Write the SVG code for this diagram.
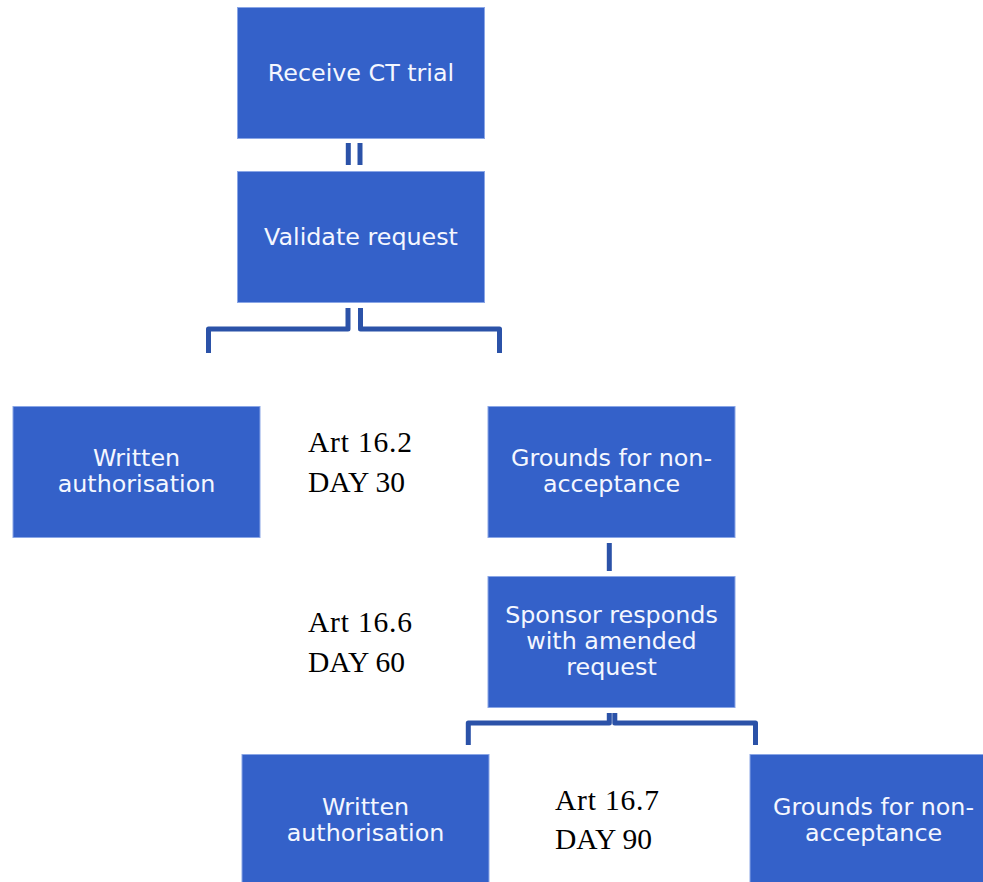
<svg xmlns="http://www.w3.org/2000/svg" width="983" height="882" viewBox="0 0 983 882">
<style>
.box{fill:#3461C9;stroke:#8AA6E6;stroke-width:1}
.lbl{font-family:"DejaVu Sans",Verdana,sans-serif;font-size:23.8px;fill:#F4F7FF;text-anchor:middle}
.day{font-family:"Liberation Serif","Times New Roman",serif;font-size:29.5px;fill:#000}
.art{letter-spacing:0.8px}
.con{fill:none;stroke:#2B52A8;stroke-width:5;stroke-linejoin:round}
</style>
<rect width="983" height="882" fill="#fff"/>
<g id="connectors">
<path class="con" d="M348.3,143V165"/>
<path class="con" d="M360,143V165"/>
<path class="con" d="M348,308V329H208.5V353"/>
<path class="con" d="M360.5,308V329H499.5V353"/>
<path class="con" d="M609.3,543V571"/>
<path class="con" d="M609.3,713V723H468.3V745"/>
<path class="con" d="M614.8,713V723H755.5V745"/>
</g>
<g id="receive">
<rect class="box" x="237.5" y="7.5" width="247" height="131"/>
<text class="lbl" x="361" y="81">Receive CT trial</text>
</g>
<g id="validate">
<rect class="box" x="237.5" y="171.5" width="247" height="131"/>
<text class="lbl" x="361" y="245">Validate request</text>
</g>
<g id="written1">
<rect class="box" x="13" y="406.5" width="247" height="131"/>
<text class="lbl" x="136.5" y="466">Written</text>
<text class="lbl" x="136.5" y="492">authorisation</text>
</g>
<g id="label1">
<text class="day art" x="308" y="452">Art 16.2</text>
<text class="day" x="308" y="492">DAY 30</text>
</g>
<g id="grounds1">
<rect class="box" x="488" y="406.5" width="247" height="131"/>
<text class="lbl" x="611.5" y="466">Grounds for non-</text>
<text class="lbl" x="611.5" y="492">acceptance</text>
</g>
<g id="sponsor">
<rect class="box" x="488" y="576.5" width="247" height="131"/>
<text class="lbl" x="611.5" y="623">Sponsor responds</text>
<text class="lbl" x="611.5" y="649">with amended</text>
<text class="lbl" x="611.5" y="675">request</text>
</g>
<g id="label2">
<text class="day art" x="308" y="632">Art 16.6</text>
<text class="day" x="308" y="672">DAY 60</text>
</g>
<g id="written2">
<rect class="box" x="242" y="754.5" width="247" height="131"/>
<text class="lbl" x="365.5" y="815">Written</text>
<text class="lbl" x="365.5" y="841">authorisation</text>
</g>
<g id="label3">
<text class="day art" x="555" y="810">Art 16.7</text>
<text class="day" x="555" y="849">DAY 90</text>
</g>
<g id="grounds2">
<rect class="box" x="750" y="754.5" width="247" height="131"/>
<text class="lbl" x="873.5" y="815">Grounds for non-</text>
<text class="lbl" x="873.5" y="841">acceptance</text>
</g>
</svg>
